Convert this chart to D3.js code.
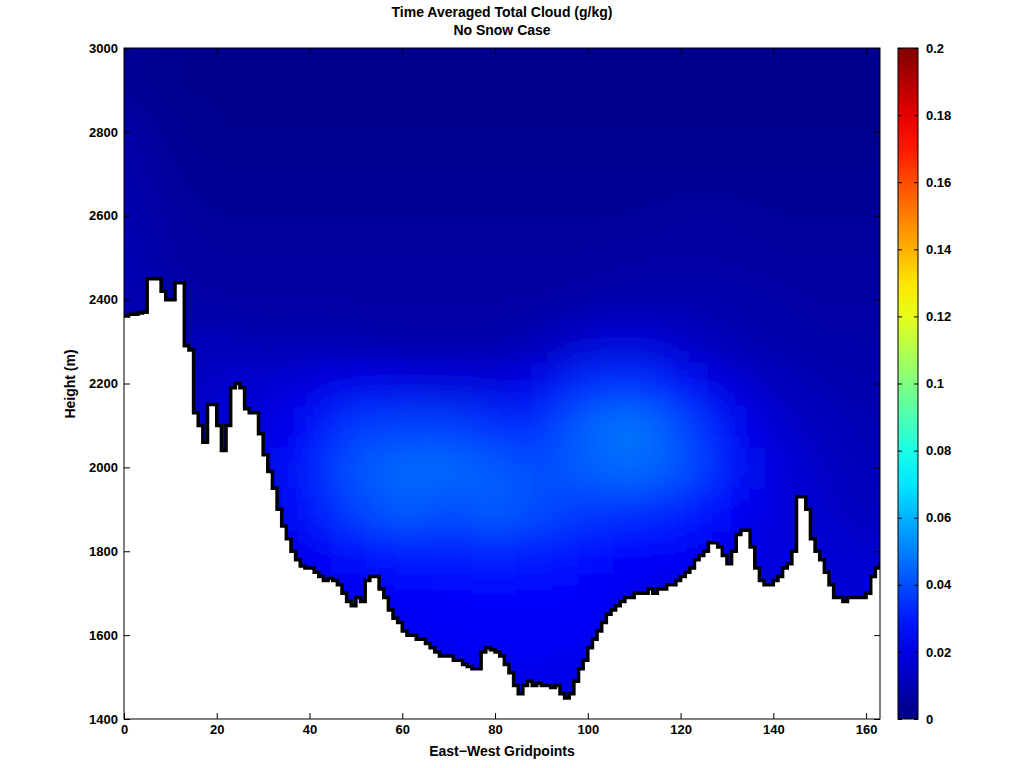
<!DOCTYPE html>
<html><head><meta charset="utf-8">
<script src="https://cdn.jsdelivr.net/npm/d3@7"></script>
<style>body{margin:0;background:#fff}text{font-family:"Liberation Sans",Arial,sans-serif;font-weight:bold}</style>
</head><body>
<svg id="chart" width="1024" height="768"></svg>
<script>
// terrain height (m) at each gridpoint 0..163
var terrain = [2361,2365,2365,2368,2370,2450,2450,2450,2420,2400,2400,2440,2440,2290,2280,2130,2100,2060,2150,2150,
  2100,2040,2100,2190,2200,2190,2140,2130,2130,2080,2030,1990,1950,1900,1860,1830,1800,1780,1765,1760,
  1760,1750,1740,1730,1735,1730,1720,1700,1680,1670,1690,1680,1730,1740,1740,1710,1690,1660,1640,1630,
  1610,1600,1600,1590,1590,1580,1570,1560,1550,1550,1550,1540,1540,1530,1525,1520,1520,1560,1570,1565,
  1560,1550,1530,1510,1480,1460,1480,1490,1480,1485,1480,1480,1475,1480,1460,1450,1460,1490,1520,1540,
  1570,1590,1610,1630,1650,1660,1670,1680,1690,1690,1700,1700,1700,1710,1700,1710,1710,1720,1720,1730,
  1740,1750,1760,1780,1790,1800,1820,1820,1810,1790,1770,1800,1840,1850,1850,1810,1760,1730,1720,1720,
  1730,1740,1760,1770,1800,1930,1930,1900,1830,1800,1780,1750,1720,1690,1690,1680,1690,1690,1690,1690,
  1700,1740,1760,1770];
// cloud field sample columns / rows
var cloudCols = [0,10,20,30,40,50,60,70,80,90,100,110,120,130,140,150,160,163];
var cloudHeights = [1400,1500,1600,1700,1800,1900,2000,2100,2200,2300,2400,2500,2600,2700,2800,2900,3000];
// values in units of 0.001 g/kg
var cloudRows = [
  [18,18,18,18,18,18,18,18,18,18,18,18,18,18,18,18,18,18],
  [20,20,20,20,20,20,20,20,21,21,20,20,20,20,20,20,20,20],
  [22,22,22,22,22,22,22,23,24,24,23,21,20,19,19,19,18,18],
  [22,22,22,22,22,22,24,26,26,26,25,21,19,18,18,17,17,17],
  [20,20,20,20,22,28,31,30,32,31,27,25,24,21,18,17,15,15],
  [20,20,20,21,27,38,44,40,44,40,36,35,32,25,18,15,12,12],
  [18,18,18,21,29,42,46,46,43,40,44,47,42,29,19,14,11,11],
  [14,15,15,18,25,37,38,38,34,33,45,49,40,26,16,12,10,10],
  [12,12,15,16,18,22,20,19,18,22,34,36,28,18,12,10,9,9],
  [11,10,12,9,10,9,8,8,8,11,16,18,14,10,9,8,8,8],
  [10,8,7,7,7,7,7,7,7,7,8,9,9,9,8,7,7,7],
  [11,7,6,6,6,6,6,6,6,6,6,7,7,7,6,6,6,6],
  [10,6,5,5,5,5,5,5,5,5,5,5,6,6,5,5,5,5],
  [9,5,4,4,4,4,4,4,4,4,4,4,4,4,4,4,4,4],
  [8,4,3,3,3,3,3,3,3,3,3,3,3,3,3,3,3,3],
  [5,3,3,3,3,3,3,3,3,3,3,3,3,3,3,3,3,3],
  [4,3,3,3,3,3,3,3,3,3,3,3,3,3,3,3,3,3]];
var xTicks = [0,20,40,60,80,100,120,140,160];
var yTicks = [1400,1600,1800,2000,2200,2400,2600,2800,3000];
var cTicks = [0,0.02,0.04,0.06,0.08,0.1,0.12,0.14,0.16,0.18,0.2];

var svg = d3.select("#chart");
var x = d3.scaleLinear().domain([0,163]).range([124,880]);
var y = d3.scaleLinear().domain([1400,3000]).range([719,48]);
var c = d3.scaleLinear().domain([0,0.2]).range([719,48]);

function jet(t){
  function f(v){return Math.max(0,Math.min(1,v));}
  var r=f(1.5-Math.abs(4*t-3)), g=f(1.5-Math.abs(4*t-2)), b=f(1.5-Math.abs(4*t-1));
  return d3.rgb(r*255,g*255,b*255);
}
function col(v){return jet(v/0.2);}

var defs = svg.append("defs");
var f = defs.append("filter").attr("id","blur").attr("filterUnits","userSpaceOnUse")
  .attr("x",0).attr("y",0).attr("width",1024).attr("height",768);
f.append("feGaussianBlur").attr("stdDeviation","24 18").attr("edgeMode","duplicate");

var area = d3.area().curve(d3.curveStepAfter)
  .x(function(d,i){return x(i);}).y0(y(3000)).y1(function(d){return y(d);});
var terr = terrain.concat([terrain[terrain.length-1]]);
defs.append("clipPath").attr("id","clip").append("path").attr("d", area(terr));
defs.append("clipPath").attr("id","clipbox").append("rect").attr("x",124).attr("y",48).attr("width",756).attr("height",671);

var g = svg.append("g").attr("clip-path","url(#clipbox)").append("g").attr("clip-path","url(#clip)")
  .append("g").attr("filter","url(#blur)");
cloudRows.forEach(function(row,ri){
  row.forEach(function(v,ci){
    var gx0 = ci==0 ? -20 : (cloudCols[ci-1]+cloudCols[ci])/2;
    var gx1 = ci==cloudCols.length-1 ? 190 : (cloudCols[ci]+cloudCols[ci+1])/2;
    var h0 = ri==0 ? 1200 : (cloudHeights[ri-1]+cloudHeights[ri])/2;
    var h1 = ri==cloudHeights.length-1 ? 3300 : (cloudHeights[ri]+cloudHeights[ri+1])/2;
    g.append("rect").attr("x",x(gx0)).attr("width",x(gx1)-x(gx0)+1)
      .attr("y",y(h1)).attr("height",y(h0)-y(h1)+1).attr("fill",col(v/1000));
  });
});

var line = d3.line().curve(d3.curveStepAfter).x(function(d,i){return x(i);}).y(function(d){return y(d);});
svg.append("path").attr("d",line(terr)).attr("fill","none").attr("stroke","#000").attr("stroke-width",3.5)
  .attr("clip-path","url(#clipbox)");

// frame and axes
svg.append("rect").attr("x",124).attr("y",48).attr("width",756).attr("height",671)
  .attr("fill","none").attr("stroke","#000");
function noDomain(a){a.select(".domain").remove();}
svg.append("g").attr("transform","translate(0,719)")
  .call(d3.axisBottom(x).tickValues(xTicks).tickSize(-6).tickPadding(6).tickFormat(d3.format("d"))).call(noDomain);
svg.append("g").attr("transform","translate(0,48)")
  .call(d3.axisTop(x).tickValues(xTicks).tickSize(-6).tickFormat("")).call(noDomain);
svg.append("g").attr("transform","translate(124,0)")
  .call(d3.axisLeft(y).tickValues(yTicks).tickSize(-6).tickPadding(6).tickFormat(d3.format("d"))).call(noDomain);
svg.append("g").attr("transform","translate(880,0)")
  .call(d3.axisRight(y).tickValues(yTicks).tickSize(-6).tickFormat("")).call(noDomain);

// colorbar
var grad = defs.append("linearGradient").attr("id","jet").attr("x1",0).attr("y1",1).attr("x2",0).attr("y2",0);
d3.range(0,1.0001,0.05).forEach(function(t){grad.append("stop").attr("offset",t).attr("stop-color",jet(t));});
svg.append("rect").attr("x",898).attr("y",48).attr("width",20).attr("height",671).attr("fill","url(#jet)").attr("stroke","#000");
svg.append("g").attr("transform","translate(918,0)")
  .call(d3.axisRight(c).tickValues(cTicks).tickSize(-4).tickPadding(8).tickFormat(d3.format("~g"))).call(noDomain);
svg.append("g").attr("transform","translate(898,0)")
  .call(d3.axisLeft(c).tickValues(cTicks).tickSize(-4).tickFormat("")).call(noDomain);

svg.selectAll(".tick text").style("font-size","13px").style("font-family","Liberation Sans").style("font-weight","bold").attr("fill","#000");

svg.append("text").attr("x",502).attr("y",17).attr("text-anchor","middle").style("font-size","14px").text("Time Averaged Total Cloud (g/kg)");
svg.append("text").attr("x",502).attr("y",35).attr("text-anchor","middle").style("font-size","14px").text("No Snow Case");
svg.append("text").attr("x",502).attr("y",756).attr("text-anchor","middle").style("font-size","14px").text("East\u2212West Gridpoints");
svg.append("text").attr("transform","translate(75,384) rotate(-90)").attr("text-anchor","middle").style("font-size","14px").text("Height (m)");
</script>
</body></html>
